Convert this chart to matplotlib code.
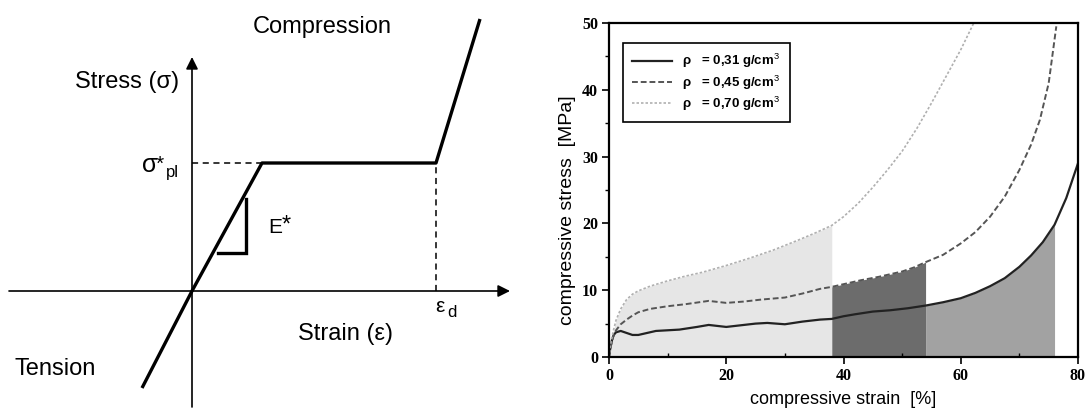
import numpy as np
import matplotlib
matplotlib.use("Agg")
import matplotlib.pyplot as plt

plt.rcParams["font.family"] = ["Liberation Sans", "DejaVu Sans"]
plt.rcParams["mathtext.fontset"] = "custom"
plt.rcParams["mathtext.rm"] = "Liberation Sans"
plt.rcParams["mathtext.it"] = "Liberation Sans:italic"
plt.rcParams["mathtext.bf"] = "Liberation Sans:bold"

# ---- left: idealised stress-strain schematic (arbitrary units) ----
sch_strain = [-5.0, 0.0, 7.0, 24.4, 28.8]
sch_stress = [-9.7, 0.0, 12.8, 12.8, 27.2]
yield_strain = 7.0
yield_stress = 12.8
dens_strain = 24.4
tri_x = [2.6, 5.4, 5.4]
tri_y = [3.8, 3.8, 9.2]

# ---- right: measured compression curves ----
strain_031 = [0, 0.2, 0.5, 0.8, 1.2, 2, 3, 4, 5, 6, 8, 10, 12, 15, 17, 20, 23, 25, 27, 30,
              33, 36, 38, 40, 42, 45, 48, 51, 54, 57, 60, 62.5, 65, 67.5, 70, 72, 74, 76, 78, 80]
stress_031 = [0, 1.2, 2.5, 3.3, 3.7, 3.9, 3.6, 3.3, 3.3, 3.5, 3.9, 4.0, 4.1, 4.5, 4.8, 4.5, 4.8, 5.0, 5.1, 4.9,
              5.3, 5.6, 5.7, 6.1, 6.4, 6.8, 7.0, 7.3, 7.7, 8.2, 8.8, 9.6, 10.6, 11.8, 13.5, 15.2, 17.2, 19.8, 23.8, 29.0]

strain_045 = [0, 0.3, 0.7, 1.2, 2, 3, 4, 5, 7, 10, 13, 17, 20, 23, 26, 30, 33, 36, 38, 40,
              43, 46, 50, 52, 54, 57, 60, 62.5, 65, 67.5, 70, 72, 73.5, 75, 76.3]
stress_045 = [0, 1.6, 3.0, 4.0, 4.9, 5.6, 6.2, 6.7, 7.2, 7.6, 7.9, 8.4, 8.1, 8.3, 8.6, 8.9, 9.5, 10.2, 10.5, 10.9,
              11.5, 12.0, 12.8, 13.4, 14.2, 15.3, 17.0, 18.7, 21.0, 24.0, 28.0, 31.8, 35.5, 41.0, 49.5]

strain_070 = [0, 0.3, 0.7, 1.2, 2, 3, 4, 5, 7, 10, 13, 16, 20, 24, 28, 32, 35, 38, 40, 42.5,
              45, 47.5, 50, 52.5, 55, 57.5, 60, 62.5]
stress_070 = [0, 2.0, 3.8, 5.5, 7.2, 8.6, 9.4, 9.9, 10.6, 11.4, 12.1, 12.7, 13.7, 14.8, 16.0, 17.4, 18.5, 19.7, 21.0, 23.0,
              25.4, 28.0, 30.8, 34.2, 38.0, 42.0, 46.0, 50.5]

labels = ["ρ   = 0,31 g/cm$^3$", "ρ   = 0,45 g/cm$^3$", "ρ   = 0,70 g/cm$^3$"]

fig = plt.figure(figsize=(10.87, 4.11), dpi=100)

# schematic axes: 10 px per unit, origin at pixel (192, 291)
ax1 = fig.add_axes([0, 0, 0.5, 1])
ax1.set_xlim(-19.2, 35.15)
ax1.set_ylim(-12.0, 29.1)
ax1.axis("off")

arrow = dict(arrowstyle="-|>", color="black", lw=1.2, mutation_scale=18, shrinkA=0, shrinkB=0)
ax1.annotate("", xy=(31.8, 0), xytext=(-18.3, 0), arrowprops=arrow)
ax1.annotate("", xy=(0, 23.4), xytext=(0, -11.6), arrowprops=arrow)

ax1.plot(sch_strain, sch_stress, color="black", lw=2.4, solid_capstyle="butt")
ax1.plot([0, yield_strain], [yield_stress, yield_stress], color="black", lw=1.1, ls=(0, (4, 3)))
ax1.plot([dens_strain, dens_strain], [0, yield_stress], color="black", lw=1.1, ls=(0, (4, 3)))
ax1.plot(tri_x, tri_y, color="black", lw=2.4, solid_joinstyle="miter")

fs = 17
ax1.text(13.0, 25.8, "Compression", fontsize=fs, ha="center", va="baseline")
ax1.text(-11.7, 20.3, "Stress (σ)", fontsize=fs, ha="left", va="baseline")
ax1.text(-17.7, -8.4, "Tension", fontsize=fs, ha="left", va="baseline")
ax1.text(10.6, -4.9, "Strain (ε)", fontsize=fs, ha="left", va="baseline")
ax1.text(-5.0, 11.9, "σ", fontsize=fs + 1, ha="left", va="baseline")
ax1.text(-3.6, 12.1, "*", fontsize=15, ha="left", va="baseline")
ax1.text(-2.6, 11.4, "pl", fontsize=12, ha="left", va="baseline")
ax1.text(7.6, 5.8, "E", fontsize=15, ha="left", va="baseline")
ax1.text(9.0, 5.9, "*", fontsize=17, ha="left", va="baseline")
ax1.text(24.3, -2.1, "ε", fontsize=15, ha="left", va="baseline")
ax1.text(25.5, -2.6, "d", fontsize=12, ha="left", va="baseline")

# measured curves
ax2 = fig.add_axes([609 / 1087, 54 / 411, 469 / 1087, 334 / 411])
s31 = np.array(strain_031)
s45 = np.array(strain_045)
s70 = np.array(strain_070)
ax2.fill_between(s70, stress_070, where=s70 <= 38, color="#e6e6e6", lw=0)
ax2.fill_between(s45, stress_045, where=(s45 >= 38) & (s45 <= 54), color="#6c6c6c", lw=0)
ax2.fill_between(s31, stress_031, where=(s31 >= 54) & (s31 <= 76), color="#a2a2a2", lw=0)

ax2.plot(strain_031, stress_031, color="#222222", lw=1.6, ls="-", label=labels[0])
ax2.plot(strain_045, stress_045, color="#555555", lw=1.4, ls=(0, (3, 1.5)), label=labels[1])
ax2.plot(strain_070, stress_070, color="#b0b0b0", lw=1.2, ls=(0, (1.5, 1.2)), label=labels[2])

ax2.set_xlim(0, 80)
ax2.set_ylim(0, 50)
ax2.set_xticks([0, 20, 40, 60, 80])
ax2.set_yticks([0, 10, 20, 30, 40, 50])
ax2.set_xticks([10, 30, 50, 70], minor=True)
ax2.set_yticks([5, 15, 25, 35, 45], minor=True)
ax2.tick_params(which="major", direction="out", length=5, width=1.2, labelsize=11.5, pad=3)
ax2.tick_params(axis="x", which="minor", direction="in", length=3, width=1.0)
ax2.tick_params(axis="y", which="minor", direction="out", length=3, width=1.0)
for lab in ax2.get_xticklabels() + ax2.get_yticklabels():
    lab.set_fontfamily("Liberation Serif")
    lab.set_fontweight("bold")
for sp in ax2.spines.values():
    sp.set_linewidth(1.6)

ax2.set_xlabel("compressive strain  [%]", fontsize=13, labelpad=5)
ax2.set_ylabel("compressive stress  [MPa]", fontsize=14, labelpad=4)
ax2.yaxis.label.set_y(0.44)

leg = ax2.legend(loc="upper left", bbox_to_anchor=(0.03, 0.94), borderaxespad=0,
                 fancybox=False, edgecolor="black", framealpha=1, handlelength=3,
                 labelspacing=0.22, borderpad=0.7, handletextpad=0.8,
                 prop={"weight": "bold", "size": 9.5})
leg.get_frame().set_linewidth(1.2)

fig.savefig("out.png", dpi=100)
